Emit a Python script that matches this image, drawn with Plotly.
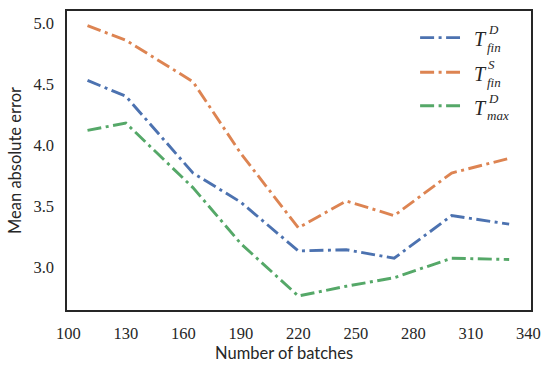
import plotly.graph_objects as go

batches = [110, 130, 165, 190, 220, 245, 270, 300, 330]
t_fin_D = [4.53, 4.40, 3.77, 3.53, 3.13, 3.14, 3.07, 3.42, 3.35]
t_fin_S = [4.98, 4.86, 4.52, 3.93, 3.32, 3.54, 3.42, 3.77, 3.89]
t_max_D = [4.12, 4.18, 3.65, 3.19, 2.76, 2.84, 2.91, 3.07, 3.06]
x_ticks = [100, 130, 160, 190, 220, 250, 280, 310, 340]
y_ticks = [3.0, 3.5, 4.0, 4.5, 5.0]

colors = ["#4C72B0", "#DD8452", "#55A868"]
series = [t_fin_D, t_fin_S, t_max_D]
sups = ["D", "S", "D"]
subs = ["fin", "fin", "max"]
dash = "14px,4.5px,3px,4.5px"
serif = "Liberation Serif, Times New Roman, serif"
sans = "Lato, Open Sans, sans-serif"
ink = "#262626"

fig = go.Figure()
for vals, c in zip(series, colors):
    fig.add_trace(go.Scatter(x=batches, y=vals, mode="lines",
                             line=dict(color=c, width=2.9, dash=dash),
                             showlegend=False, hoverinfo="skip"))

# custom legend with stacked super/subscripts
line_y = [0.911, 0.795, 0.683]
for i, c in enumerate(colors):
    yy = line_y[i]
    fig.add_shape(type="line", xref="paper", yref="paper",
                  x0=0.761, x1=0.847, y0=yy, y1=yy,
                  line=dict(color=c, width=2.9, dash=dash))
    fig.add_annotation(xref="paper", yref="paper", x=0.873, y=yy - 0.006,
                       text="<i>T</i>", showarrow=False, xanchor="left",
                       yanchor="middle",
                       font=dict(family=serif, size=20, color=ink))
    fig.add_annotation(xref="paper", yref="paper", x=0.903, y=yy + 0.026,
                       text="<i>" + sups[i] + "</i>", showarrow=False,
                       xanchor="left", yanchor="middle",
                       font=dict(family=serif, size=13, color=ink))
    fig.add_annotation(xref="paper", yref="paper", x=0.900, y=yy - 0.034,
                       text="<i>" + subs[i] + "</i>", showarrow=False,
                       xanchor="left", yanchor="middle",
                       font=dict(family=serif, size=13, color=ink))

# x-axis title
fig.add_annotation(xref="paper", yref="paper", x=0.468, y=-0.145,
                   text="Number of batches", showarrow=False,
                   xanchor="center", yanchor="middle",
                   font=dict(family=sans, size=16.5, color=ink))

fig.update_layout(
    width=550, height=368,
    margin=dict(l=67, r=18, t=9, b=58),
    paper_bgcolor="white", plot_bgcolor="white",
    xaxis=dict(range=[99.3, 341.4], tickvals=x_ticks,
               ticktext=[str(v) for v in x_ticks],
               showgrid=False, zeroline=False,
               ticks="outside", ticklen=8, tickcolor="rgba(0,0,0,0)",
               showline=True, mirror=True, linecolor=ink, linewidth=1.6,
               tickfont=dict(family=serif, size=16.5, color=ink)),
    yaxis=dict(range=[2.645, 5.10], tickvals=y_ticks,
               ticktext=["%.1f" % v for v in y_ticks],
               showgrid=False, zeroline=False,
               ticks="outside", ticklen=8, tickcolor="rgba(0,0,0,0)",
               showline=True, mirror=True, linecolor=ink, linewidth=1.6,
               tickfont=dict(family=serif, size=16.5, color=ink),
               title=dict(text="Mean absolute error", standoff=7,
                          font=dict(family=sans, size=16.5, color=ink))),
)

fig.write_html("out.html",
               config={"displayModeBar": False, "staticPlot": True},
               post_script="document.body.style.margin='0px';"
                           "document.body.style.overflow='hidden';")
